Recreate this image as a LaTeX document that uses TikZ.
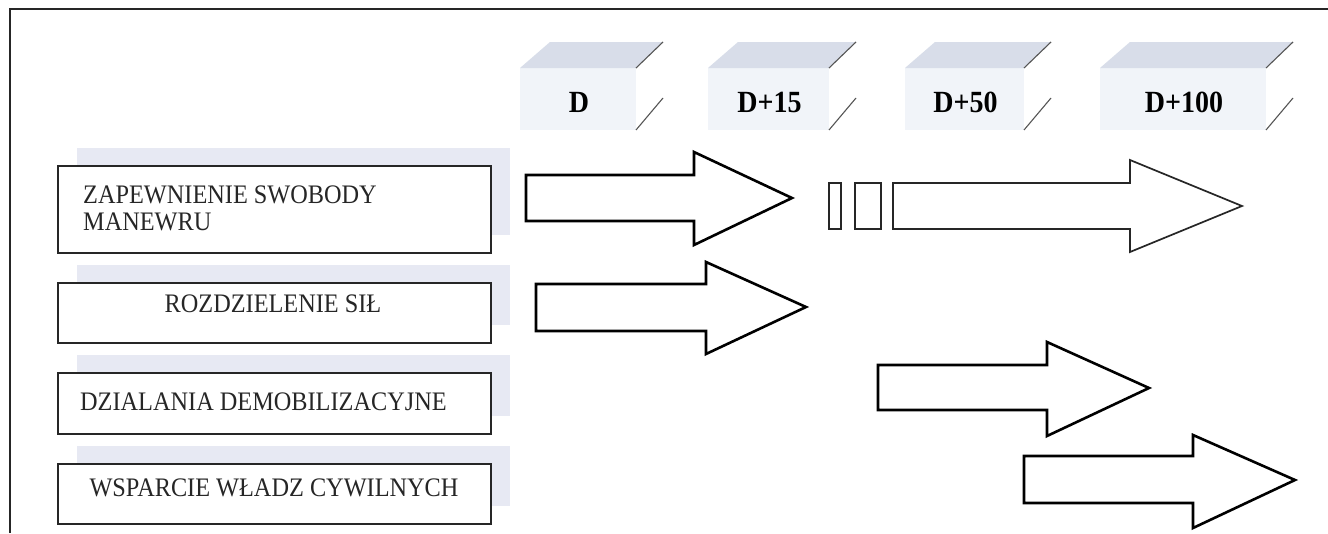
\documentclass[tikz,border=0pt]{standalone}
\usepackage{fontspec}
\setmainfont{Liberation Serif}
\definecolor{shadowc}{HTML}{E7E9F3}
\definecolor{topface}{HTML}{D8DDE9}
\definecolor{frontface}{HTML}{F1F4F9}
\definecolor{slashc}{HTML}{555555}
\newcommand\vstr[1]{\scalebox{1}[1.1]{#1}}
\tikzset{
  frameline/.style={line width=1.8pt, draw=black!85},
  boxrect/.style={line width=1.8pt, draw=black!85, fill=white},
  boxshadow/.style={fill=shadowc, draw=none},
  boxtext/.style={font=\fontsize{24.3}{25}\selectfont, inner sep=0pt, text=black!85},
  hdrtext/.style={font=\fontsize{28}{30}\selectfont\bfseries, inner sep=0pt},
  thickarrow/.style={line width=2.6pt, draw=black, fill=white, line join=miter},
  thinarrow/.style={line width=1.7pt, draw=black!85, fill=white, line join=miter},
  slash/.style={line width=1.1pt, draw=slashc},
}
\begin{document}
\begin{tikzpicture}[x=1pt,y=-1pt]
\useasboundingbox (0,0) rectangle (1328,533);
\fill[white] (0,0) rectangle (1328,533);
% frame
\coordinate (fTL) at (10,9);
\coordinate (fBL) at (10,533);
\coordinate (fTR) at (1328,9);
\draw[frameline] (fBL) -- (fTL) -- (fTR);

% header blocks
\foreach \xa/\xb/\lab/\nm in {520/636/D/hD, 708/829/D+15/hA, 905/1024/D+50/hB, 1100/1266/D+100/hC}{
  \fill[frontface] (\xa,68) rectangle (\xb,130);
  \fill[topface] (\xa,68) -- (\xa+30,42) -- (\xb+27,42) -- (\xb,68) -- cycle;
  \draw[slash] (\xb+27,42) -- (\xb,68);
  \draw[slash] (\xb+27,98) -- (\xb,130);
  \node[hdrtext, anchor=base] (\nm) at ({(\xa+\xb)/2+1},112) {\vstr{\lab}};
}

% shadows
\fill[boxshadow] (77,148) rectangle (510,235);
\fill[boxshadow] (77,265) rectangle (510,325);
\fill[boxshadow] (77,355) rectangle (510,416);
\fill[boxshadow] (77,446) rectangle (510,506);

% boxes
\draw[boxrect] (58,166) rectangle (491,253);
\draw[boxrect] (58,283) rectangle (491,343);
\draw[boxrect] (58,373) rectangle (491,434);
\draw[boxrect] (58,464) rectangle (491,524);

\node[boxtext, anchor=base west] (t1a) at (83,203) {\vstr{ZAPEWNIENIE SWOBODY}};
\node[boxtext, anchor=base west] (t1b) at (83,230) {\vstr{MANEWRU}};
\node[boxtext, anchor=base] (t2) at (273,312) {\vstr{ROZDZIELENIE SIŁ}};
\node[boxtext, anchor=base west] (t3) at (80,410) {\vstr{DZIALANIA DEMOBILIZACYJNE}};
\node[boxtext, anchor=base] (t4) at (274,496) {\vstr{WSPARCIE WŁADZ CYWILNYCH}};

% arrows
\draw[thickarrow] (526,175) -- (694,175) -- (694,152) -- (792,198) -- (694,245) -- (694,221) -- (526,221) -- cycle;
\draw[thinarrow] (829,183) rectangle (841,229);
\draw[thinarrow] (855,183) rectangle (881,229);
\draw[thinarrow] (893,183) -- (1130,183) -- (1130,160) -- (1242,206) -- (1130,252) -- (1130,229) -- (893,229) -- cycle;
\draw[thickarrow] (536,284) -- (706,284) -- (706,262) -- (806,307) -- (706,354) -- (706,331) -- (536,331) -- cycle;
\draw[thickarrow] (878,365) -- (1047,365) -- (1047,342) -- (1149,388) -- (1047,436) -- (1047,410) -- (878,410) -- cycle;
\draw[thickarrow] (1024,456) -- (1193,456) -- (1193,435) -- (1295,480) -- (1193,528) -- (1193,503) -- (1024,503) -- cycle;
\end{tikzpicture}
\end{document}
